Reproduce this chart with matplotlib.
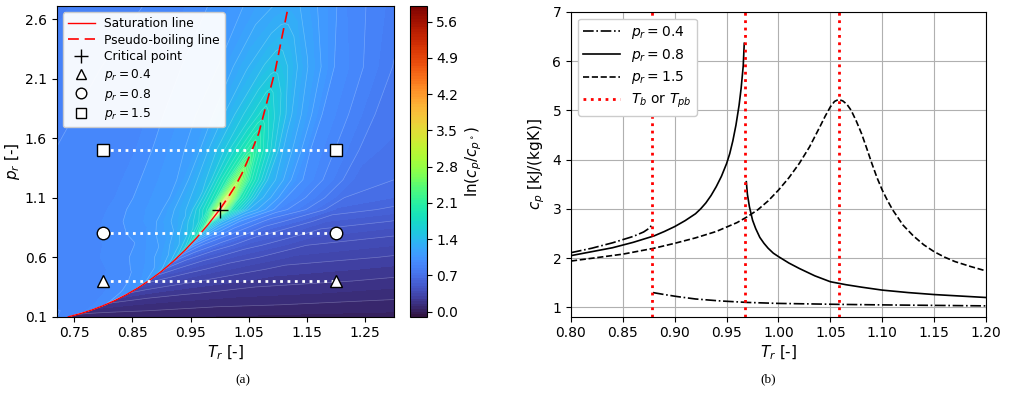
import numpy as np
import matplotlib.pyplot as plt

# ---------------- (a) ln(cp/cp0) map ----------------
# pressure rows of the map and the Tr where the saturation / pseudo-boiling line crosses each row
pr_rows = [0.1, 0.15, 0.2, 0.3, 0.4, 0.5, 0.6, 0.7, 0.8, 0.9, 1.0, 1.1, 1.25, 1.5, 1.8, 2.2, 2.71]
line_tr = [0.741, 0.776, 0.8035, 0.845, 0.878, 0.905, 0.928, 0.949, 0.967, 0.984, 1.0,
           1.014, 1.0325, 1.056, 1.076, 1.097, 1.118]
# columns: Tr distance from that line (liquid side < 0 < gas side)
dtr_cols = [-0.45, -0.2, -0.1, -0.05, -0.02, -0.006, -0.0005, 0.0005, 0.006, 0.02, 0.05, 0.1, 0.2, 0.6]
# ln(cp/cp0), one row per pressure
lncp = [
    [0.88, 0.88, 0.88, 0.89, 0.90, 0.92, 0.93, 0.08, 0.075, 0.07, 0.065, 0.06, 0.05, 0.02],
    [0.88, 0.88, 0.89, 0.90, 0.92, 0.95, 0.97, 0.14, 0.13, 0.12, 0.11, 0.10, 0.08, 0.05],
    [0.88, 0.89, 0.90, 0.92, 0.95, 0.98, 1.00, 0.19, 0.18, 0.17, 0.15, 0.13, 0.11, 0.07],
    [0.88, 0.89, 0.91, 0.94, 0.99, 1.03, 1.06, 0.30, 0.29, 0.27, 0.24, 0.21, 0.17, 0.11],
    [0.88, 0.90, 0.93, 0.97, 1.03, 1.09, 1.14, 0.42, 0.41, 0.38, 0.34, 0.29, 0.23, 0.15],
    [0.88, 0.90, 0.95, 1.01, 1.09, 1.18, 1.27, 0.60, 0.56, 0.50, 0.43, 0.36, 0.28, 0.19],
    [0.88, 0.91, 0.97, 1.06, 1.18, 1.33, 1.48, 0.80, 0.72, 0.63, 0.53, 0.44, 0.34, 0.23],
    [0.88, 0.91, 0.99, 1.11, 1.29, 1.52, 1.75, 1.08, 0.94, 0.80, 0.66, 0.53, 0.40, 0.27],
    [0.88, 0.92, 1.03, 1.18, 1.43, 1.76, 2.10, 1.45, 1.28, 1.05, 0.82, 0.63, 0.47, 0.31],
    [0.88, 0.93, 1.07, 1.27, 1.60, 2.10, 2.70, 2.00, 1.65, 1.32, 1.00, 0.75, 0.55, 0.36],
    [0.88, 0.94, 1.09, 1.34, 1.85, 2.70, 4.20, 4.20, 2.80, 1.90, 1.30, 0.95, 0.64, 0.41],
    [0.88, 0.94, 1.10, 1.38, 1.93, 2.75, 3.40, 3.40, 2.85, 2.00, 1.38, 1.00, 0.70, 0.46],
    [0.87, 0.95, 1.11, 1.44, 1.98, 2.50, 2.75, 2.75, 2.50, 1.95, 1.40, 1.03, 0.74, 0.50],
    [0.86, 0.95, 1.13, 1.48, 1.83, 2.05, 2.10, 2.10, 2.03, 1.78, 1.32, 1.00, 0.76, 0.54],
    [0.85, 0.95, 1.13, 1.40, 1.60, 1.72, 1.75, 1.75, 1.72, 1.58, 1.28, 1.00, 0.78, 0.58],
    [0.84, 0.94, 1.10, 1.29, 1.41, 1.46, 1.47, 1.47, 1.46, 1.40, 1.22, 1.00, 0.80, 0.62],
    [0.82, 0.92, 1.05, 1.16, 1.21, 1.23, 1.23, 1.23, 1.23, 1.20, 1.10, 0.95, 0.80, 0.65],
]

# saturation and pseudo-boiling lines
sat_tr = [0.74, 0.76, 0.78, 0.80, 0.82, 0.84, 0.86, 0.88, 0.90, 0.92, 0.94, 0.96, 0.98, 1.00]
sat_pr = [0.099, 0.125, 0.156, 0.193, 0.236, 0.286, 0.343, 0.408, 0.481, 0.564, 0.657, 0.760, 0.874, 1.0]
pb_tr = [1.0, 1.014, 1.027, 1.038, 1.047, 1.0556, 1.067, 1.081, 1.0955, 1.107, 1.118]
pb_pr = [1.0, 1.1, 1.2, 1.3, 1.4, 1.5, 1.64, 1.9, 2.17, 2.45, 2.71]

# isobars shown in (b)
iso_pr = [0.4, 0.8, 1.5]
iso_tr = [0.8, 1.2]
iso_mark = ['^', 'o', 's']
cb_ticks = [0.0, 0.7, 1.4, 2.1, 2.8, 3.5, 4.2, 4.9, 5.6]

# ---------------- (b) cp along isobars ----------------
tr04_liq = [0.80, 0.82, 0.84, 0.86, 0.87, 0.875, 0.878]
cp04_liq = [2.11, 2.20, 2.31, 2.44, 2.53, 2.60, 2.67]
tr04_gas = [0.879, 0.890, 0.902, 0.92, 0.944, 0.97, 1.00, 1.06, 1.10, 1.15, 1.20]
cp04_gas = [1.30, 1.26, 1.22, 1.17, 1.13, 1.10, 1.08, 1.06, 1.05, 1.04, 1.03]

tr08_liq = [0.80, 0.82, 0.84, 0.86, 0.88, 0.89, 0.90, 0.91, 0.92, 0.925, 0.93, 0.935, 0.94,
            0.945, 0.95, 0.953, 0.956, 0.959, 0.962, 0.964, 0.966, 0.967]
cp08_liq = [2.05, 2.13, 2.21, 2.32, 2.45, 2.54, 2.64, 2.76, 2.90, 3.00, 3.12, 3.27, 3.45,
            3.66, 3.92, 4.12, 4.38, 4.70, 5.10, 5.45, 5.90, 6.36]
tr08_gas = [0.969, 0.970, 0.972, 0.975, 0.978, 0.982, 0.986, 0.99, 0.995, 1.00, 1.01, 1.02,
            1.035, 1.05, 1.065, 1.08, 1.10, 1.125, 1.15, 1.175, 1.20]
cp08_gas = [3.55, 3.30, 3.04, 2.77, 2.60, 2.42, 2.30, 2.20, 2.10, 2.03, 1.90, 1.79,
            1.64, 1.52, 1.46, 1.41, 1.35, 1.30, 1.26, 1.23, 1.20]

tr15 = [0.80, 0.85, 0.88, 0.90, 0.92, 0.94, 0.96, 0.97, 0.98, 0.99, 1.00, 1.01, 1.02, 1.03,
        1.04, 1.045, 1.05, 1.054, 1.058, 1.062, 1.066, 1.07, 1.075, 1.08, 1.085, 1.09, 1.095,
        1.10, 1.105, 1.11, 1.12, 1.13, 1.14, 1.15, 1.16, 1.17, 1.185, 1.20]
cp15 = [1.94, 2.08, 2.20, 2.30, 2.41, 2.54, 2.72, 2.84, 2.98, 3.16, 3.38, 3.63, 3.92, 4.26,
        4.67, 4.88, 5.07, 5.18, 5.22, 5.19, 5.12, 5.00, 4.78, 4.53, 4.23, 3.92, 3.63,
        3.38, 3.17, 2.98, 2.67, 2.45, 2.27, 2.13, 2.02, 1.93, 1.83, 1.74]

t_boil = [0.878, 0.968, 1.058]

plt.rcParams['font.size'] = 10
fig = plt.figure(figsize=(10.09, 3.93), dpi=100)

# map
ax1 = fig.add_axes([0.0562, 0.1941, 0.3346, 0.7906])
cax = fig.add_axes([0.4063, 0.1941, 0.0165, 0.7906])

TR = np.add.outer(line_tr, dtr_cols)
PR = np.repeat(np.array(pr_rows)[:, None], len(dtr_cols), axis=1)
Z = np.array(lncp)

fill_levels = np.linspace(-0.1, 5.9, 121)
line_levels = np.linspace(-0.1, 5.9, 61)
cf = ax1.contourf(TR, PR, Z, levels=fill_levels, cmap='turbo')
ax1.contour(TR, PR, Z, levels=line_levels, colors='white', linewidths=0.5, alpha=0.25)

ax1.plot(sat_tr, sat_pr, color='red', lw=1.0, label='Saturation line')
ax1.plot(pb_tr, pb_pr, color='red', lw=1.2, ls='--', dashes=(6.5, 3.5), label='Pseudo-boiling line')
ax1.plot([1.0], [1.0], '+', color='black', ms=12, mew=1.0, label='Critical point')

for p, m in zip(iso_pr, iso_mark):
    ax1.plot(iso_tr, [p, p], ls=':', color='white', lw=2, zorder=3)
    ax1.plot(iso_tr, [p, p], ls='none', marker=m, ms=9, mfc='white', mec='black', mew=1.0,
             zorder=4, label=r'$p_r = {}$'.format(p))

ax1.set_xlim(0.72, 1.30)
ax1.set_ylim(0.1, 2.71)
ax1.set_xticks([0.75, 0.85, 0.95, 1.05, 1.15, 1.25])
ax1.set_yticks([0.1, 0.6, 1.1, 1.6, 2.1, 2.6])
ax1.set_xticklabels(['0.75', '0.85', '0.95', '1.05', '1.15', '1.25'])
ax1.set_yticklabels(['0.1', '0.6', '1.1', '1.6', '2.1', '2.6'])
ax1.set_xlabel(r'$T_r$ [-]', fontsize=11, labelpad=2)
ax1.set_ylabel(r'$p_r$ [-]', fontsize=11, labelpad=2)
ax1.legend(loc='upper left', fontsize=8.8, framealpha=0.95, handlelength=2.2,
           borderaxespad=0.5, labelspacing=0.3, markerscale=0.85)

cb = fig.colorbar(cf, cax=cax, ticks=cb_ticks)
cb.ax.set_yticklabels(['{:.1f}'.format(t) for t in cb_ticks])
cb.set_label(r'$\ln(c_p/c_{p^\circ})$', fontsize=11)

# isobars
ax2 = fig.add_axes([0.5659, 0.1941, 0.4113, 0.776])
ax2.plot(tr04_liq, cp04_liq, color='black', ls='-.', lw=1.2, label=r'$p_r = 0.4$')
ax2.plot(tr04_gas, cp04_gas, color='black', ls='-.', lw=1.2)
ax2.plot(tr08_liq, cp08_liq, color='black', ls='-', lw=1.2, label=r'$p_r = 0.8$')
ax2.plot(tr08_gas, cp08_gas, color='black', ls='-', lw=1.2)
ax2.plot(tr15, cp15, color='black', ls='--', lw=1.2, label=r'$p_r = 1.5$')
for i, t in enumerate(t_boil):
    ax2.axvline(t, color='red', ls=':', lw=2, label=r'$T_b$ or $T_{pb}$' if i == 0 else None)

ax2.set_xlim(0.8, 1.2)
ax2.set_ylim(0.81, 7)
ax2.set_xticks([0.80, 0.85, 0.90, 0.95, 1.00, 1.05, 1.10, 1.15, 1.20])
ax2.set_xticklabels(['0.80', '0.85', '0.90', '0.95', '1.00', '1.05', '1.10', '1.15', '1.20'])
ax2.set_yticks([1, 2, 3, 4, 5, 6, 7])
ax2.grid(True, color='#b0b0b0', lw=0.8)
ax2.set_axisbelow(True)
ax2.set_xlabel(r'$T_r$ [-]', fontsize=11, labelpad=2)
ax2.set_ylabel(r'$c_p$ [kJ/(kgK)]', fontsize=11, labelpad=4)
ax2.legend(loc='upper left', fontsize=10, framealpha=1.0, handlelength=2.6,
           borderaxespad=0.5, labelspacing=0.4)

# captions
fig.text(0.241, 0.033, '(a)', ha='center', va='center', fontsize=9.5, family='Liberation Serif')
fig.text(0.761, 0.036, '(b)', ha='center', va='center', fontsize=9.5, family='Liberation Serif')

fig.savefig('out.png', dpi=100)
